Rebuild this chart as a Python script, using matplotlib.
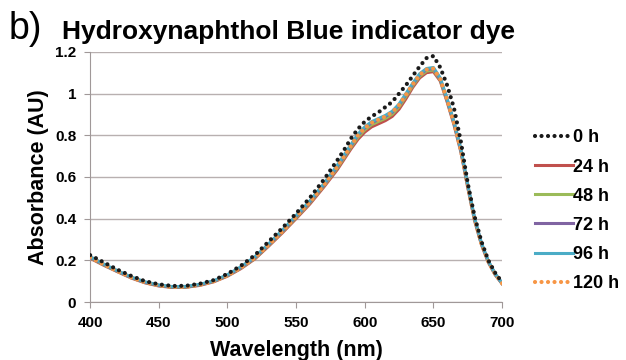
import matplotlib
matplotlib.use("Agg")
import matplotlib.pyplot as plt

plt.rcParams["font.family"] = ["Liberation Sans", "DejaVu Sans"]

wavelength = [400, 410, 420, 430, 440, 450, 460, 470, 480, 490, 500, 510, 520, 530, 540,
              550, 560, 570, 580, 585, 590, 595, 600, 605, 610, 615, 620, 625, 630, 635,
              640, 645, 650, 655, 660, 665, 670, 675, 680, 685, 690, 695, 700]

abs_0h = [0.225, 0.19, 0.155, 0.125, 0.10, 0.085, 0.077, 0.078, 0.088, 0.105, 0.135, 0.175,
          0.225, 0.29, 0.355, 0.425, 0.50, 0.585, 0.68, 0.73, 0.785, 0.83, 0.865, 0.89, 0.91,
          0.935, 0.96, 1.0, 1.04, 1.085, 1.13, 1.17, 1.18, 1.125, 1.04, 0.93, 0.77, 0.57,
          0.41, 0.29, 0.20, 0.14, 0.095]
abs_24h = [0.21, 0.176, 0.145, 0.115, 0.092, 0.077, 0.07, 0.071, 0.08, 0.097, 0.124, 0.161,
           0.207, 0.268, 0.332, 0.40, 0.47, 0.55, 0.635, 0.685, 0.735, 0.78, 0.815, 0.84,
           0.855, 0.87, 0.89, 0.925, 0.975, 1.03, 1.075, 1.10, 1.105, 1.06, 0.96, 0.85,
           0.72, 0.55, 0.39, 0.275, 0.19, 0.13, 0.088]
abs_48h = [0.213, 0.178, 0.147, 0.117, 0.094, 0.079, 0.071, 0.072, 0.082, 0.099, 0.126, 0.164,
           0.21, 0.272, 0.337, 0.405, 0.476, 0.556, 0.643, 0.693, 0.743, 0.79, 0.826, 0.851,
           0.866, 0.881, 0.901, 0.936, 0.986, 1.038, 1.083, 1.108, 1.113, 1.066, 0.967, 0.857,
           0.727, 0.555, 0.395, 0.278, 0.193, 0.133, 0.089]
abs_72h = [0.215, 0.18, 0.148, 0.118, 0.095, 0.08, 0.072, 0.073, 0.083, 0.10, 0.128, 0.166,
           0.213, 0.275, 0.34, 0.41, 0.48, 0.56, 0.65, 0.70, 0.75, 0.80, 0.835, 0.86, 0.875,
           0.89, 0.91, 0.945, 0.995, 1.045, 1.09, 1.115, 1.12, 1.07, 0.97, 0.86, 0.73,
           0.56, 0.40, 0.28, 0.195, 0.135, 0.09]
abs_96h = [0.218, 0.182, 0.15, 0.12, 0.097, 0.082, 0.074, 0.075, 0.085, 0.102, 0.131, 0.17,
           0.217, 0.279, 0.345, 0.415, 0.485, 0.566, 0.656, 0.706, 0.756, 0.805, 0.84, 0.865,
           0.88, 0.895, 0.915, 0.95, 1.0, 1.05, 1.095, 1.12, 1.125, 1.075, 0.975, 0.865,
           0.735, 0.565, 0.403, 0.283, 0.197, 0.136, 0.091]
abs_120h = [0.215, 0.18, 0.148, 0.118, 0.095, 0.08, 0.072, 0.073, 0.083, 0.10, 0.128, 0.166,
            0.213, 0.275, 0.34, 0.41, 0.48, 0.56, 0.65, 0.70, 0.75, 0.80, 0.835, 0.86, 0.875,
            0.89, 0.91, 0.945, 0.995, 1.045, 1.09, 1.115, 1.12, 1.07, 0.97, 0.86, 0.73,
            0.56, 0.40, 0.28, 0.195, 0.135, 0.09]

y_ticks = [0, 0.2, 0.4, 0.6, 0.8, 1.0, 1.2]
y_tick_labels = ["0", "0.2", "0.4", "0.6", "0.8", "1", "1.2"]
x_ticks = [400, 450, 500, 550, 600, 650, 700]

SERIES = [
    ("0 h", abs_0h, "#1a1a1a", "dot", 6),
    ("24 h", abs_24h, "#c0504d", "solid", 2),
    ("48 h", abs_48h, "#9bbb59", "solid", 2),
    ("72 h", abs_72h, "#8064a2", "solid", 3),
    ("96 h", abs_96h, "#4bacc6", "solid", 4),
    ("120 h", abs_120h, "#f79646", "dot", 5),
]

fig = plt.figure(figsize=(6.26, 3.6), dpi=100)
ax = fig.add_axes([0.144, 0.161, 0.658, 0.695])

for label, values, color, style, z in SERIES:
    if style == "dot":
        ax.plot(wavelength, values, color=color, linewidth=3.0, linestyle=(0, (0.01, 1.55)),
                dash_capstyle="round", label=label, zorder=z)
    else:
        ax.plot(wavelength, values, color=color, linewidth=2.2, label=label, zorder=z)

ax.set_xlim(400, 700)
ax.set_ylim(0, 1.2)
ax.set_xticks(x_ticks)
ax.set_yticks(y_ticks)
ax.set_yticklabels(y_tick_labels)
ax.yaxis.grid(True, color="#b8b0b0", linewidth=1.0)
ax.set_axisbelow(True)
for side in ("top", "right"):
    ax.spines[side].set_visible(False)
for side in ("left", "bottom"):
    ax.spines[side].set_color("#a09898")
ax.tick_params(axis="both", length=4, color="#a09898", labelsize=11, pad=6)
for lab in ax.get_xticklabels() + ax.get_yticklabels():
    lab.set_fontweight("bold")

ax.set_xlabel("Wavelength (nm)", fontsize=15.5, fontweight="bold", labelpad=7)
ax.set_ylabel("Absorbance (AU)", fontsize=15.5, fontweight="bold", labelpad=4)

fig.text(0.014, 0.892, "b)", fontsize=27, va="baseline", ha="left")
fig.text(0.099, 0.892, "Hydroxynaphthol Blue indicator dye", fontsize=19,
         fontweight="bold", va="baseline", ha="left")

ax.legend(loc="center left", bbox_to_anchor=(1.08, 0.365), frameon=False,
          borderaxespad=0, borderpad=0,
          handlelength=2.1, handletextpad=0.0, labelspacing=0.67,
          prop={"weight": "bold", "size": 13})

fig.savefig("out.png", dpi=100)
